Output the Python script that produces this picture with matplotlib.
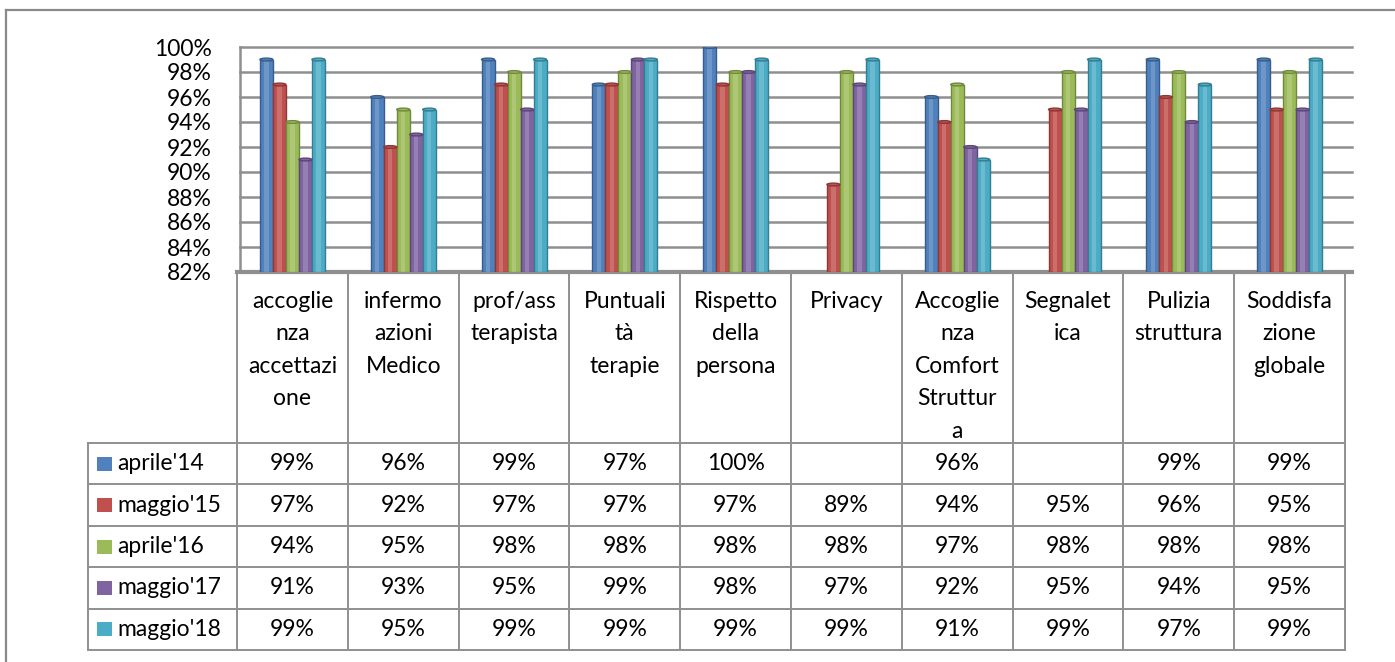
import matplotlib
matplotlib.use("Agg")
import matplotlib.pyplot as plt
from matplotlib.patches import Ellipse, Rectangle
from matplotlib.lines import Line2D
import numpy as np

plt.rcParams['font.family'] = ['Lato', 'DejaVu Sans']

# dati
categorie = ["accoglie\nnza\naccettazi\none", "infermo\nazioni\nMedico",
             "prof/ass\nterapista", "Puntuali\ntà\nterapie",
             "Rispetto\ndella\npersona", "Privacy",
             "Accoglie\nnza\nComfort\nStruttur\na", "Segnalet\nica",
             "Pulizia\nstruttura", "Soddisfa\nzione\nglobale"]
serie = ["aprile'14", "maggio'15", "aprile'16", "maggio'17", "maggio'18"]
aprile14 = [99, 96, 99, 97, 100, None, 96, None, 99, 99]
maggio15 = [97, 92, 97, 97, 97, 89, 94, 95, 96, 95]
aprile16 = [94, 95, 98, 98, 98, 98, 97, 98, 98, 98]
maggio17 = [91, 93, 95, 99, 98, 97, 92, 95, 94, 95]
maggio18 = [99, 95, 99, 99, 99, 99, 91, 99, 97, 99]
valori = [aprile14, maggio15, aprile16, maggio17, maggio18]
colori = ['#4F81BD', '#C0504D', '#9BBB59', '#8064A2', '#4BACC6']
bordi = ['#385D8A', '#8C3836', '#71893F', '#5C4776', '#357D91']
yticks = list(range(82, 101, 2))

W, H = 1395, 662
FS = 16.5
fig = plt.figure(figsize=(W / 100, H / 100), dpi=100)

def px(x0, y0, x1, y1):
    # rettangolo in pixel (origine in alto a sinistra) -> coordinate figura
    return [x0 / W, 1 - y1 / H, (x1 - x0) / W, (y1 - y0) / H]

# cornice esterna
fig.add_artist(Line2D([6 / W, 1], [1 - 10 / H] * 2, color='#8a8a8a', lw=1.6))
fig.add_artist(Line2D([6 / W] * 2, [0, 1 - 10 / H], color='#8a8a8a', lw=1.6))

# ---- grafico a colonne
ax = fig.add_axes(px(237, 47, 1345, 272))
ax.set_xlim(-0.5, 9.5)
ax.set_ylim(82, 100)
for s in ax.spines.values():
    s.set_visible(False)
ax.set_xticks([])
ax.set_yticks(yticks)
ax.set_yticklabels([f"{t}%" for t in yticks], fontsize=FS)
ax.tick_params(axis='y', length=0, pad=18)

xr = 9.5 + 7 / 110.8
for t in yticks:
    ax.plot([-0.47, xr], [t, t], color='#8f8f8f', lw=1.8, clip_on=False, zorder=1)
ax.plot([-0.5, xr], [82, 82], color='#8f8f8f', lw=3, clip_on=False, zorder=1)
ax.plot([-0.47, -0.47], [82, 100], color='#8f8f8f', lw=1.8, clip_on=False, zorder=1)

bw = 13 / 110.8
x = np.arange(len(categorie))
for i, (vals, c, e) in enumerate(zip(valori, colori, bordi)):
    xs = x + (i - 2) * bw
    ys = [np.nan if v is None else v for v in vals]
    hs = [np.nan if v is None else v - 82 for v in vals]
    ax.bar(xs, hs, bottom=82, width=bw, color=c, edgecolor=e, lw=1.0, zorder=3)
    ax.bar(xs, hs, bottom=82, width=bw * 0.35, color='white', alpha=0.18, lw=0, zorder=4)
    for xx, yy in zip(xs, ys):
        if not np.isnan(yy):
            ax.add_patch(Ellipse((xx, yy), bw, 0.22, facecolor=c, edgecolor=e,
                                 lw=1.0, zorder=5))

# ---- tabella dati
tx0, tx1 = 88, 1345
ty0, ty1 = 272, 650
tab = fig.add_axes(px(tx0, ty0, tx1, ty1))
leg_w = (237 - 88) / 110.8
tab.set_xlim(-0.5 - leg_w, 9.5)
tab.set_ylim(ty1 - ty0, 0)
tab.axis('off')
head = 443 - ty0
rh = (ty1 - 443) / 5
lc = '#8f8f8f'
# linee verticali
for k in range(11):
    tab.plot([k - 0.5, k - 0.5], [0, ty1 - ty0], color=lc, lw=1.4, clip_on=False)
tab.plot([-0.5 - leg_w] * 2, [head, ty1 - ty0], color=lc, lw=1.4, clip_on=False)
# linee orizzontali
for r in range(6):
    tab.plot([-0.5 - leg_w, 9.5], [head + r * rh] * 2, color=lc, lw=1.4, clip_on=False)

for k, lab in enumerate(categorie):
    tab.text(k, 19, lab, ha='center', va='top', fontsize=FS, linespacing=1.67)

for r, (nome, vals, c) in enumerate(zip(serie, valori, colori)):
    yc = head + (r + 0.5) * rh
    tab.add_patch(Rectangle((-0.5 - leg_w + 9 / 110.8, yc - 7), 15 / 110.8, 14,
                            facecolor=c, edgecolor='none'))
    tab.text(-0.5 - leg_w + 29 / 110.8, yc, nome, ha='left', va='center', fontsize=FS)
    for k, v in enumerate(vals):
        if v is not None:
            tab.text(k, yc, f"{v}%", ha='center', va='center', fontsize=FS)

fig.savefig("out.png", dpi=100, facecolor='white')
